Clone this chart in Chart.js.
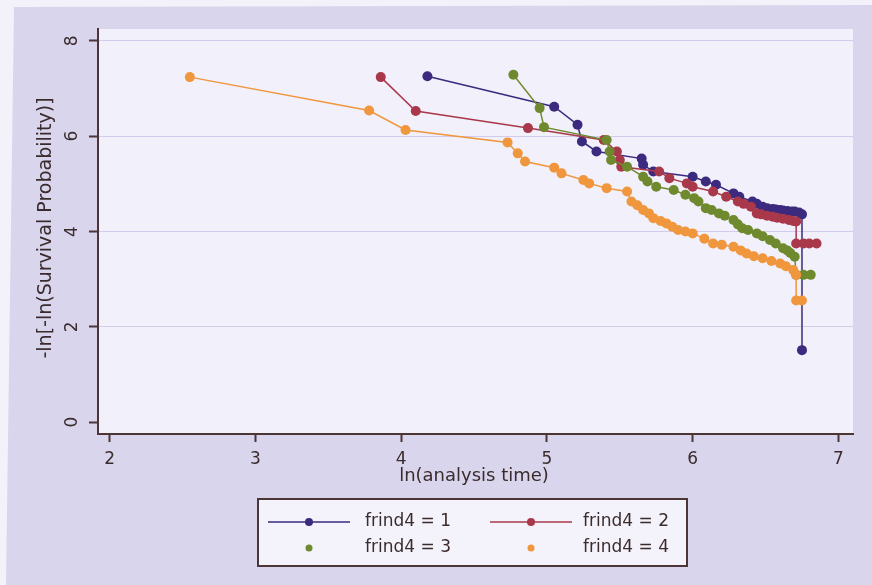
<!DOCTYPE html>
<html><head><meta charset="utf-8">
<script src="https://cdn.jsdelivr.net/npm/chart.js@4"></script>
<style>html,body{margin:0;padding:0;background:#f3f1f9;} canvas{display:block}</style>
</head><body>
<canvas id="c" width="872" height="585"></canvas>
<script>
const seriesLabels = ['frind4 = 1', 'frind4 = 2', 'frind4 = 3', 'frind4 = 4'];
const xTitle = 'ln(analysis time)';
const yTitle = '-ln[-ln(Survival Probability)]';
const xTicks = [2, 3, 4, 5, 6, 7];
const yTicks = [0, 2, 4, 6, 8];

const s1x = [4.18, 5.05, 5.21, 5.24, 5.34, 5.65, 5.66, 5.73, 6.00, 6.09, 6.16, 6.28, 6.32, 6.41, 6.44, 6.48, 6.51, 6.55, 6.57, 6.60, 6.62, 6.65, 6.68, 6.70, 6.73, 6.75, 6.75];
const s1y = [7.26, 6.62, 6.24, 5.89, 5.68, 5.53, 5.40, 5.26, 5.15, 5.05, 4.98, 4.80, 4.73, 4.63, 4.58, 4.52, 4.49, 4.47, 4.46, 4.45, 4.44, 4.43, 4.42, 4.42, 4.40, 4.36, 1.51];

const s2x = [3.86, 4.10, 4.87, 5.39, 5.48, 5.50, 5.51, 5.77, 5.84, 5.96, 6.00, 6.14, 6.23, 6.31, 6.35, 6.40, 6.44, 6.47, 6.51, 6.55, 6.58, 6.62, 6.66, 6.69, 6.71, 6.71, 6.76, 6.80, 6.85];
const s2y = [7.24, 6.53, 6.17, 5.92, 5.68, 5.50, 5.36, 5.26, 5.12, 5.01, 4.94, 4.84, 4.73, 4.63, 4.58, 4.52, 4.38, 4.36, 4.33, 4.31, 4.29, 4.27, 4.24, 4.22, 4.21, 3.75, 3.75, 3.75, 3.75];

const s3x = [4.77, 4.95, 4.98, 5.41, 5.43, 5.44, 5.55, 5.66, 5.69, 5.75, 5.87, 5.95, 6.01, 6.04, 6.09, 6.13, 6.18, 6.22, 6.28, 6.31, 6.34, 6.38, 6.44, 6.48, 6.53, 6.57, 6.62, 6.65, 6.67, 6.70, 6.71, 6.76, 6.81];
const s3y = [7.29, 6.59, 6.19, 5.92, 5.68, 5.50, 5.36, 5.15, 5.05, 4.94, 4.87, 4.77, 4.70, 4.63, 4.49, 4.45, 4.38, 4.33, 4.24, 4.15, 4.07, 4.03, 3.96, 3.90, 3.82, 3.75, 3.65, 3.60, 3.55, 3.47, 3.09, 3.09, 3.09];

const s4x = [2.55, 3.78, 4.03, 4.73, 4.80, 4.85, 5.05, 5.10, 5.25, 5.29, 5.41, 5.55, 5.58, 5.62, 5.66, 5.70, 5.73, 5.78, 5.82, 5.86, 5.90, 5.95, 6.00, 6.08, 6.14, 6.20, 6.28, 6.33, 6.37, 6.42, 6.48, 6.54, 6.60, 6.64, 6.69, 6.71, 6.71, 6.75];
const s4y = [7.24, 6.54, 6.13, 5.87, 5.64, 5.47, 5.34, 5.22, 5.08, 5.01, 4.91, 4.84, 4.63, 4.55, 4.45, 4.38, 4.28, 4.22, 4.17, 4.10, 4.03, 4.00, 3.96, 3.85, 3.75, 3.72, 3.68, 3.60, 3.54, 3.48, 3.44, 3.38, 3.33, 3.27, 3.19, 3.09, 2.55, 2.55];

const colors = ['#3b2a7e', '#a8384a', '#6f8a2e', '#f0963c'];
const legendLine = [true, true, false, false];
const axisColor = '#4b3535';
const textColor = '#3a2c2c';
const FONT = '"DejaVu Sans", sans-serif';

function pts(xs, ys) { return xs.map((x, i) => ({ x: x, y: ys[i] })); }
const allX = [s1x, s2x, s3x, s4x];
const allY = [s1y, s2y, s3y, s4y];

const decor = {
  id: 'decor',
  beforeDraw(chart) {
    const ctx = chart.ctx, a = chart.chartArea;
    ctx.save();
    ctx.fillStyle = '#f3f1f9';
    ctx.fillRect(0, 0, chart.width, chart.height);
    ctx.fillStyle = '#d9d5ed';
    ctx.beginPath();
    ctx.moveTo(14, 7); ctx.lineTo(872, 5); ctx.lineTo(872, 585); ctx.lineTo(6, 585);
    ctx.closePath(); ctx.fill();
    ctx.fillStyle = '#f2f0fa';
    ctx.fillRect(a.left, a.top, a.right - a.left, a.bottom - a.top);
    ctx.restore();
  },
  afterDraw(chart) {
    const ctx = chart.ctx, ys = chart.scales.y;
    ctx.save();
    ctx.fillStyle = textColor;
    ctx.textAlign = 'center';
    ctx.textBaseline = 'middle';
    ctx.font = '17px ' + FONT;
    yTicks.forEach(v => {
      const py = ys.getPixelForValue(v);
      ctx.save(); ctx.translate(73, py); ctx.rotate(-Math.PI / 2);
      ctx.fillText(String(v), 0, 0); ctx.restore();
    });
    ctx.font = '19px ' + FONT;
    ctx.save(); ctx.translate(46, 228); ctx.rotate(-Math.PI / 2);
    ctx.fillText(yTitle, 0, 0); ctx.restore();
    ctx.font = '18px ' + FONT;
    ctx.fillText(xTitle, 474, 476);
    const bx = 258, by = 499, bw = 429, bh = 67;
    ctx.fillStyle = '#f4f2fa';
    ctx.fillRect(bx, by, bw, bh);
    ctx.strokeStyle = axisColor; ctx.lineWidth = 2;
    ctx.strokeRect(bx, by, bw, bh);
    const cols = [{ l: 268, m: 309, r: 350, t: 365 }, { l: 490, m: 531, r: 572, t: 583 }];
    const rows = [522, 548];
    ctx.font = '17px ' + FONT;
    ctx.textAlign = 'left';
    seriesLabels.forEach((lab, i) => {
      const c = cols[i % 2], yy = rows[Math.floor(i / 2)];
      ctx.strokeStyle = colors[i]; ctx.fillStyle = colors[i];
      if (legendLine[i]) {
        ctx.lineWidth = 1.5;
        ctx.beginPath(); ctx.moveTo(c.l, yy); ctx.lineTo(c.r, yy); ctx.stroke();
      }
      ctx.beginPath(); ctx.arc(c.m, yy, legendLine[i] ? 4 : 3.5, 0, Math.PI * 2); ctx.fill();
      ctx.fillStyle = textColor;
      ctx.fillText(lab, c.t, yy);
    });
    ctx.restore();
  }
};

new Chart(document.getElementById('c'), {
  type: 'scatter',
  data: {
    datasets: seriesLabels.map((lab, i) => ({
      label: lab,
      data: pts(allX[i], allY[i]),
      showLine: true,
      borderColor: colors[i],
      backgroundColor: colors[i],
      borderWidth: 1.5,
      pointRadius: 5,
      pointHoverRadius: 5,
      pointBorderWidth: 0,
      order: 4 - i
    }))
  },
  options: {
    responsive: false,
    animation: false,
    devicePixelRatio: 1,
    layout: { padding: { top: 29, right: 19, left: 0, bottom: 0 } },
    plugins: { legend: { display: false }, tooltip: { enabled: false } },
    scales: {
      x: {
        type: 'linear', min: 1.92, max: 7.1,
        afterBuildTicks: s => { s.ticks = xTicks.map(v => ({ value: v })); },
        afterFit: s => { s.height = 151; },
        border: { display: true, color: axisColor, width: 2 },
        grid: { drawOnChartArea: false, drawTicks: true, tickLength: 8, tickColor: axisColor, tickWidth: 2, color: 'rgba(0,0,0,0)' },
        ticks: { color: textColor, font: { family: FONT, size: 17 }, padding: 7, maxRotation: 0 }
      },
      y: {
        type: 'linear', min: -0.25, max: 8.25,
        afterBuildTicks: s => { s.ticks = yTicks.map(v => ({ value: v })); },
        afterFit: s => { s.width = 98; },
        border: { display: true, color: axisColor, width: 2 },
        grid: {
          drawOnChartArea: true, drawTicks: true, tickLength: 9, tickColor: axisColor, tickWidth: 2,
          color: c => (c.tick && c.tick.value === 0) ? 'rgba(0,0,0,0)' : '#d3cbec', lineWidth: 1
        },
        ticks: { display: false }
      }
    }
  },
  plugins: [decor]
});
</script>
</body></html>
